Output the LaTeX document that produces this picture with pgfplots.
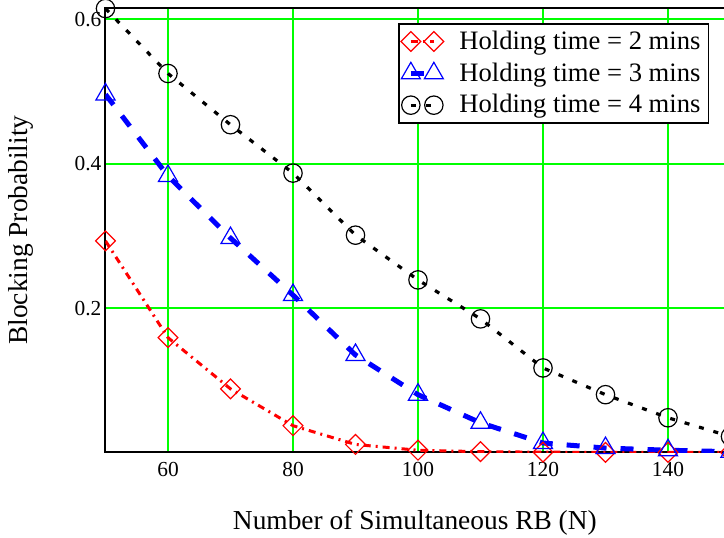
\documentclass[border=0pt]{standalone}
\usepackage{fontspec}
\setmainfont{Liberation Serif}
\usepackage{pgfplots}
\pgfplotsset{compat=1.18}
\definecolor{gridgreen}{RGB}{0,255,0}
\begin{document}
\begin{tikzpicture}
\path[use as bounding box] (-52.75pt,-42.3pt) rectangle (309.25pt,226.2pt);
\begin{axis}[
  scale only axis, width=312.5pt, height=222.3pt,
  xmin=50, xmax=150, ymin=0, ymax=0.616,
  xtick={60,80,...,140}, ytick={0.2,0.4,0.6},
  grid=major, major grid style={color=gridgreen, line width=1pt},
  axis line style={line width=1pt},
  major tick length=0pt,
  /pgf/number format/assume math mode=true,
  tick label style={font=\fontsize{10.7}{12}\selectfont},
  yticklabel style={/pgf/number format/fixed, /pgf/number format/precision=1, /pgf/number format/fixed zerofill, xshift=1.5pt},
  xticklabel style={yshift=-1.5pt},
  label style={font=\fontsize{13.7}{16}\selectfont},
  xlabel={Number of Simultaneous RB (N)},
  ylabel={Blocking Probability},
  xlabel style={at={(axis description cs:0.495,-0.158)}, anchor=center},
  ylabel style={at={(axis description cs:-0.135,0.5)}, anchor=center},
  legend style={at={(rel axis cs:0.966,0.966)}, anchor=north east, draw=black, line width=0.8pt,
    font=\fontsize{13.3}{15}\selectfont, inner xsep=1pt, inner ysep=2.5pt,
    nodes={inner ysep=1pt, inner xsep=3pt}, row sep=3.2pt, cells={anchor=west}},
  legend image code/.code={\path (-2pt,0pt) (20pt,0pt);\draw[#1] plot coordinates {(0pt,0pt) (11.5pt,0pt)};},
]
\addplot[color=red, line width=1.5pt, dash pattern=on 3.5pt off 2.5pt on 1pt off 2.5pt,
  mark=square, mark size=3.5pt, mark options={solid, rotate=45, line width=0.6pt, fill=none}]
  coordinates {(50,0.293)(60,0.159)(70,0.088)(80,0.037)(90,0.011)(100,0.003)(110,0.001)(120,0.0003)(130,0)(140,0)(150,0)};
\addlegendentry{Holding time = 2 mins}
\addplot[color=blue, line width=2.5pt, dash pattern=on 6.5pt off 7pt,
  mark=triangle, mark size=5.5pt, mark options={solid, line width=0.6pt, fill=none}]
  coordinates {(50,0.496)(60,0.383)(70,0.297)(80,0.218)(90,0.135)(100,0.080)(110,0.041)(120,0.013)(130,0.006)(140,0.003)(150,0.001)};
\addlegendentry{Holding time = 3 mins}
\addplot[color=black, line width=1.6pt, dash pattern=on 2.5pt off 5pt,
  mark=o, mark size=4.6pt, mark options={solid, line width=0.6pt, fill=none}]
  coordinates {(50,0.615)(60,0.525)(70,0.454)(80,0.387)(90,0.301)(100,0.239)(110,0.185)(120,0.117)(130,0.080)(140,0.048)(150,0.022)};
\addlegendentry{Holding time = 4 mins}
\end{axis}
\end{tikzpicture}
\end{document}
